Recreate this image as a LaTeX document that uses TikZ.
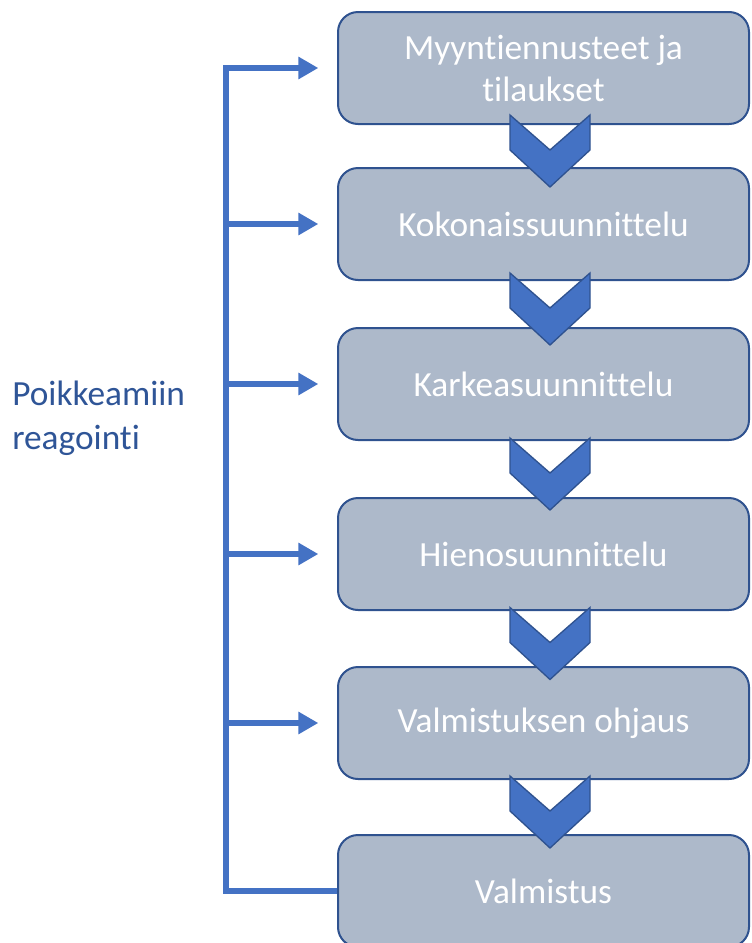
\documentclass[tikz,border=0pt]{standalone}
\usepackage{fontspec}
\setmainfont{Carlito}[Ligatures=NoCommon]
\usetikzlibrary{arrows.meta,calc}
\definecolor{boxfill}{HTML}{ADB9CA}
\definecolor{boxedge}{HTML}{2F528F}
\definecolor{accent}{HTML}{4472C4}
\definecolor{labelblue}{HTML}{2F5597}
\begin{document}
\begin{tikzpicture}[x=0.75pt,y=-0.75pt,
  stepbox/.style={draw=boxedge, line width=1.5pt, fill=boxfill, rounded corners=15pt,
    minimum width=308.25pt, minimum height=84pt, text=white,
    font=\fontsize{26.5}{31.5}\selectfont, align=center, inner sep=0pt},
  feed/.style={draw=accent, line width=4.5pt, line join=miter, -{Triangle[length=15pt,width=16pt]}},
  chev/.style={fill=accent, draw=boxedge, line width=1pt, line join=miter}]
\useasboundingbox (0,0) rectangle (751,943);

\coordinate (spinetop) at (226,68);

\node[stepbox] (b1) at (543.5,68) {Myyntiennusteet ja\\tilaukset};
\node[stepbox] (b2) at (543.5,224) {Kokonaissuunnittelu};
\node[stepbox] (b3) at (543.5,384) {Karkeasuunnittelu};
\node[stepbox] (b4) at (543.5,554) {Hienosuunnittelu};
\node[stepbox] (b5) at (543.5,723) {Valmistuksen ohjaus};
\node[stepbox] (b6) at (543.5,891) {Valmistus};

\foreach \a/\b in {b1/b2,b2/b3,b3/b4,b4/b5,b5/b6}{
  \draw[chev] ($(\a.south)!0.5!(\b.north)+(6.5,5)$) ++(-40,-36) -- ++(40,35) -- ++(40,-35)
    -- ++(0,35) -- ++(-40,37) -- ++(-40,-37) -- cycle;
}

\draw[feed] (b6.west) -- (b6.west -| spinetop) -- (spinetop) -- ([xshift=-14pt]b1.west);
\foreach \n in {b2,b3,b4,b5}{
  \draw[feed] (\n.west -| spinetop) -- ([xshift=-14pt]\n.west);
}

\node[anchor=west, text=labelblue, font=\fontsize{26.5}{33}\selectfont, align=left, inner sep=0pt]
  (lbl) at (12,418) {Poikkeamiin\\reagointi};
\end{tikzpicture}
\end{document}
